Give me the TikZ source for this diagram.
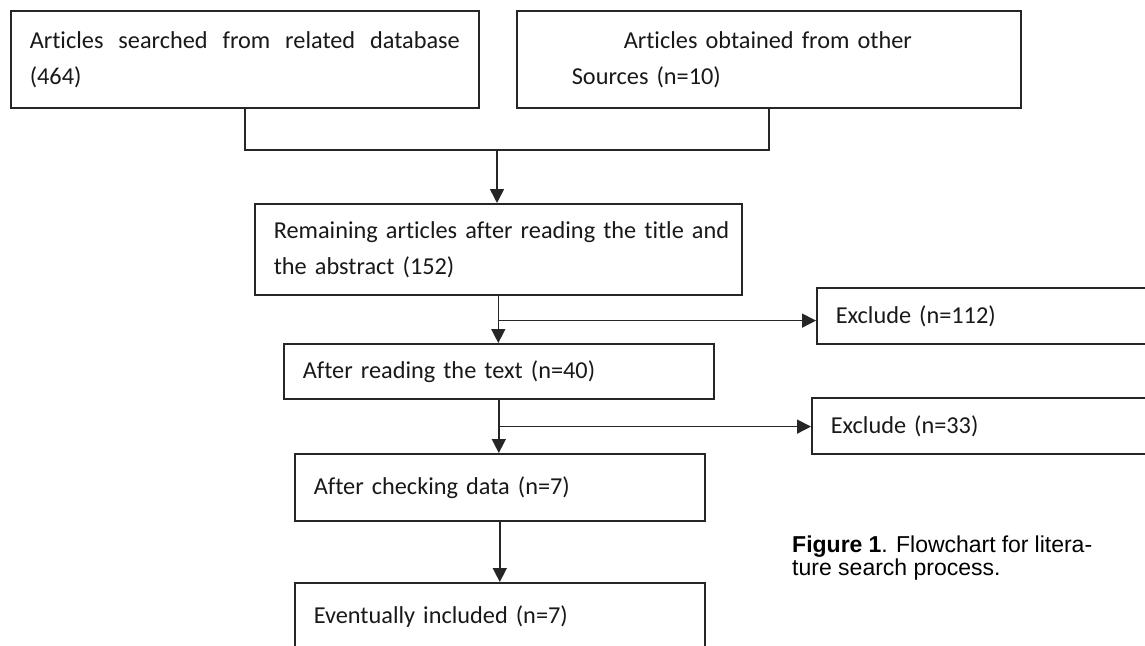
\documentclass[tikz,border=0pt]{standalone}
\usepackage{fontspec}
\setmainfont{Carlito}[Ligatures={NoCommon}, WordSpace={0.8}]
\newfontfamily\capfont{Liberation Sans}
\usetikzlibrary{arrows.meta,calc}
\tikzset{
 box/.style={draw=black!85, line width=1.6pt, rectangle, anchor=north west, inner ysep=0pt, align=left, font=\fontsize{24.3}{36}\selectfont, text=black!90},
 conn/.style={draw=black!85, line width=1.5pt},
 arr/.style={conn, -{Triangle[width=14pt,length=14pt]}},
}
\begin{document}
\begin{tikzpicture}[x=1pt,y=-1pt]
\useasboundingbox (0,0) rectangle (1145,645);
\fill[white] (0,0) rectangle (1145,645);
\clip (0,0) rectangle (1145,645);

\node[box, inner xsep=19pt, text width=430pt, minimum width=468pt, minimum height=97pt, align=justify] (b1) at (10,10) {Articles searched from related database\linebreak (464)};
\node[box, inner xsep=55pt, text width=394pt, minimum width=504pt, minimum height=97pt] (b2) at (516,10) {\hspace*{52pt}Articles obtained from other\\Sources (n=10)};
\node[box, inner xsep=19pt, text width=449pt, minimum width=487pt, minimum height=91pt] (b3) at (254,203) {\mbox{Remaining articles after reading the title and}\\\mbox{the abstract (152)}};
\node[box, inner xsep=19pt, text width=392pt, minimum width=430pt, minimum height=55pt] (b4) at (283,343) {After reading the text (n=40)};
\node[box, inner xsep=19pt, text width=372pt, minimum width=410pt, minimum height=67pt] (b5) at (294,453) {After checking data (n=7)};
\node[box, inner xsep=19pt, text width=372pt, minimum width=410pt, minimum height=67pt] (b6) at (294,582) {Eventually included (n=7)};
\node[box, inner xsep=19pt, text width=322pt, minimum width=360pt, minimum height=56pt] (e1) at (816,287) {Exclude (n=112)};
\node[box, inner xsep=19pt, text width=322pt, minimum width=360pt, minimum height=56pt] (e2) at (811,397) {Exclude (n=33)};

\coordinate (m1) at (497,150);
\draw[conn] (b1.south) |- (m1) -| (b2.south);
\draw[arr] (m1) -- (m1 |- b3.north);
\coordinate (m2) at ($(b3.south)+(0,25)$);
\draw[arr] (b3.south) -- (b3.south |- b4.north);
\draw[arr] (m2) -- (e1.west |- m2);
\coordinate (m3) at ($(b4.south)+(0,27)$);
\draw[arr] (b4.south) -- (b4.south |- b5.north);
\draw[arr] (m3) -- (e2.west |- m3);
\draw[arr] (b5.south) -- (b6.north);

\node[anchor=north west, inner sep=0pt, text width=300pt, align=justify, font=\capfont\fontsize{23}{23}\selectfont] (cap) at (792,536) {\textbf{Figure 1}. Flowchart for litera-\linebreak ture search process.};
\end{tikzpicture}
\end{document}
